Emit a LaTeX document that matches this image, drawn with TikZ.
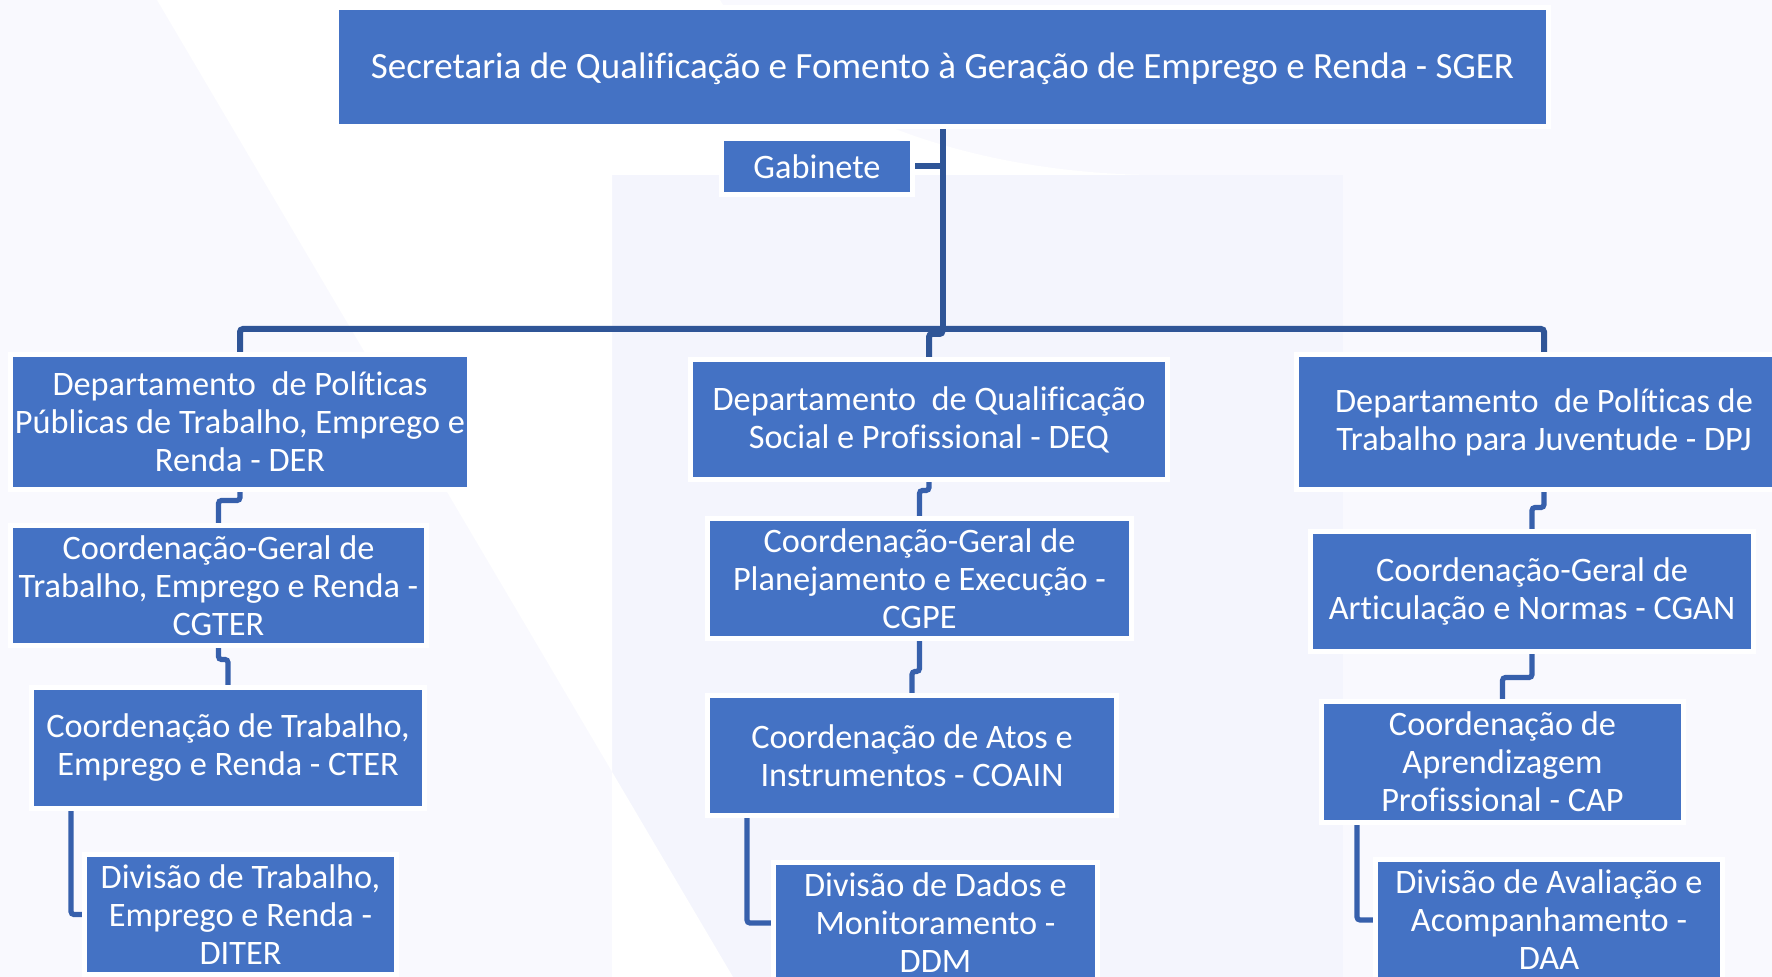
\documentclass[tikz,border=0pt]{standalone}
\usepackage{fontspec}
\setmainfont[Ligatures=NoCommon]{Carlito}
\usetikzlibrary{calc}
\definecolor{boxblue}{HTML}{4472C4}
\definecolor{linedark}{HTML}{2F5597}
\definecolor{linesub}{HTML}{3760AC}
\definecolor{bglav}{HTML}{F9F9FE}
\definecolor{bgrect}{HTML}{F4F5FD}
\pgfdeclarelayer{bg}
\pgfdeclarelayer{conn}
\pgfsetlayers{bg,conn,main}
\newcommand{\Polit}{Polí\kern-0.6pt ticas}
\tikzset{
  orgbox/.style={rectangle, fill=boxblue, draw=white, line width=2.5pt, text=white,
    inner sep=0pt, outer sep=0pt, align=center,
    font=\fontsize{17.15pt}{19pt}\selectfont},
  ob/.style 2 args={orgbox, minimum width={(#1+5)*0.5pt}, minimum height={(#2+5)*0.5pt}},
  mainline/.style={draw=linedark, line width=3pt, rounded corners=1.5pt},
  subline/.style={draw=linesub, line width=2.6pt, rounded corners=1.5pt}
}
\begin{document}
\begin{tikzpicture}[x=0.5pt,y=-0.5pt]
\useasboundingbox (0,0) rectangle (1772,977);
\clip (0,0) rectangle (1772,977);

% nodes
\node[ob={1207}{114}, font=\fontsize{18.5pt}{20pt}\selectfont] (SGER) at (942.5,67)
  {\raisebox{-6pt}[0pt][0pt]{Secretaria de Qualificação e Fomento à Geração de Emprego e Renda - SGER}};
\node[ob={186}{51}] (Gab) at (817,166.5) {Gabinete};

\node[ob={454}{130}] (DER) at (240,422)
  {Departamento~ de \Polit\\Públicas de Trabalho, Emprego e\\Renda - DER};
\node[ob={472}{115}] (DEQ) at (929,419.5)
  {Departamento~ de Qualificação\\Social e Profissional - DEQ};
\node[ob={490}{130}] (DPJ) at (1544,422)
  {Departamento~ de \Polit{} de\\Trabalho para Juventude - DPJ};

\node[ob={411}{115}] (CGTER) at (218.5,585.5)
  {Coordenação-Geral de\\Trabalho, Emprego e Renda -\\CGTER};
\node[ob={388}{116}] (CTER) at (228,748)
  {Coordenação de Trabalho,\\Emprego e Renda - CTER};
\node[ob={307}{115}] (DITER) at (240.5,914.5)
  {Divisão de Trabalho,\\Emprego e Renda -\\DITER};

\node[ob={419}{115}] (CGPE) at (919.5,578.5)
  {Coordenação-Geral de\\Planejamento e Execução -\\CGPE};
\node[ob={404}{115}] (COAIN) at (912,755.5)
  {Coordenação de Atos e\\Instrumentos - COAIN};
\node[ob={319}{116}] (DDM) at (935.5,923)
  {Divisão de Dados e\\Monitoramento -\\DDM};

\node[ob={438}{115}] (CGAN) at (1532,591.5)
  {Coordenação-Geral de\\Articulação e Normas - CGAN};
\node[ob={357}{116}] (CAP) at (1502.5,762)
  {Coordenação de\\Aprendizagem\\Profissional - CAP};
\node[ob={342}{116}] (DAA) at (1549,920)
  {Divisão de Avaliação e\\Acompanhamento -\\DAA};

\coordinate (bar) at (0,329);
\coordinate (jog) at (0,334);

\begin{pgfonlayer}{conn}
\draw[mainline] (SGER.south) -- (SGER.south |- bar);
\draw[mainline] (Gab.east) -- (Gab.east -| SGER.south);
\draw[mainline] (DER.north) |- (DPJ.north |- bar) -- (DPJ.north);
\draw[mainline] (SGER.south |- bar) -- (SGER.south |- jog) -| (DEQ.north);

\draw[subline] (DER.south) -- ++(0,11) -| (CGTER.north);
\draw[subline] (CGTER.south) -- ++(0,14) -| (CTER.north);
\draw[subline] ($(CTER.south west)+(39.5,0)$) |- (DITER.west);

\draw[subline] (DEQ.south) -- ++(0,11) -| (CGPE.north);
\draw[subline] (CGPE.south) -- ++(0,33) -| (COAIN.north);
\draw[subline] ($(COAIN.south west)+(39.5,0)$) |- (DDM.west);

\draw[subline] (DPJ.south) -- ++(0,18) -| (CGAN.north);
\draw[subline] (CGAN.south) -- ++(0,26) -| (CAP.north);
\draw[subline] ($(CAP.south west)+(35.5,0)$) |- (DAA.west);
\end{pgfonlayer}

\begin{pgfonlayer}{bg}
\fill[bglav] (0,0) rectangle (1772,977);
\fill[bgrect] (612,175) rectangle (1343,977);
\fill[white] (157,0) -- (720,0) .. controls (780,100) and (950,172) .. (1150,175)
  -- (612,175) -- (612,977) -- (733,977) -- cycle;
\end{pgfonlayer}
\end{tikzpicture}
\end{document}
